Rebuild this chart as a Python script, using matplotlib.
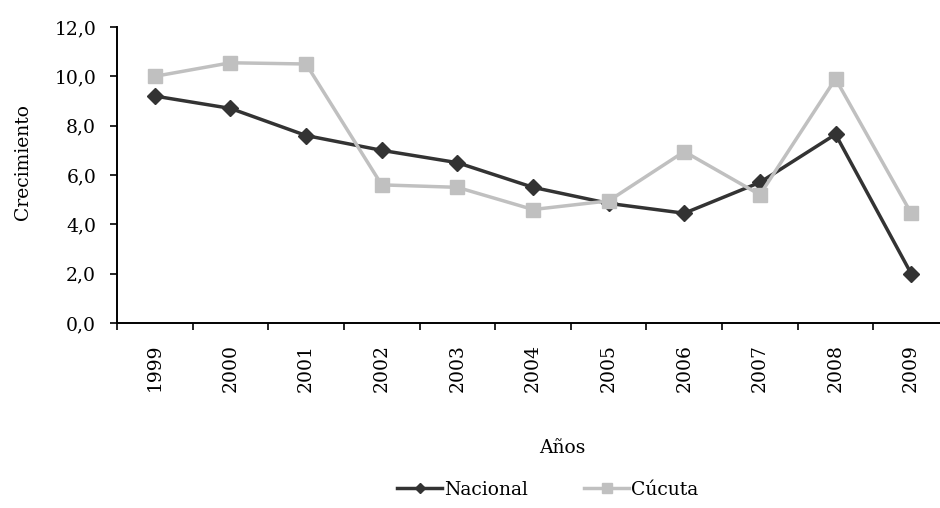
import numpy as np
import matplotlib.pyplot as plt
from matplotlib.ticker import FixedLocator, FuncFormatter

years = ["1999", "2000", "2001", "2002", "2003", "2004", "2005", "2006", "2007", "2008", "2009"]
nacional = [9.2, 8.7, 7.6, 7.0, 6.5, 5.5, 4.85, 4.45, 5.7, 7.65, 2.0]
cucuta = [10.0, 10.55, 10.5, 5.6, 5.5, 4.6, 4.95, 6.95, 5.2, 9.9, 4.45]

plt.rcParams['font.family'] = 'DejaVu Serif'
plt.rcParams['font.size'] = 13.5

fig = plt.figure(figsize=(9.4, 5.08), dpi=100)
ax = fig.add_axes([117/940, 1-323/508, (949-117)/940, (323-27)/508])

x = np.arange(len(years))
ax.plot(x, nacional, color='#333333', lw=2.5, marker='D', ms=8.5, label='Nacional')
ax.plot(x, cucuta, color='#c0c0c0', lw=2.5, marker='s', ms=10.5, label='Cúcuta')

ax.set_xlim(-0.5, len(years) - 0.5)
ax.set_ylim(0, 12)
ax.set_yticks(np.arange(0, 13, 2))
ax.yaxis.set_major_formatter(FuncFormatter(lambda v, p: f"{v:.1f}".replace('.', ',')))
ax.set_xticks(x)
ax.set_xticklabels(years, rotation=90)
ax.xaxis.set_minor_locator(FixedLocator(np.arange(-0.5, len(years), 1)))
ax.tick_params(axis='x', which='major', length=0, pad=15)
ax.tick_params(axis='x', which='minor', length=5, width=1.2, direction='out')
ax.tick_params(axis='y', length=5, width=1.2, direction='out', pad=10)

for s in ['top', 'right']:
    ax.spines[s].set_visible(False)
for s in ['left', 'bottom']:
    ax.spines[s].set_linewidth(1.4)

fig.text(0.024, 1-162/508, 'Crecimiento', rotation=90, ha='center', va='center')
fig.text(562/940, 1-448/508, 'Años', ha='center', va='center')

fig.legend(loc='center', bbox_to_anchor=(548/940, 1-490/508), ncol=2, frameon=False,
           handlelength=2.4, handletextpad=0.1, columnspacing=3.0, markerscale=0.65)

fig.savefig('out.png', dpi=100)
